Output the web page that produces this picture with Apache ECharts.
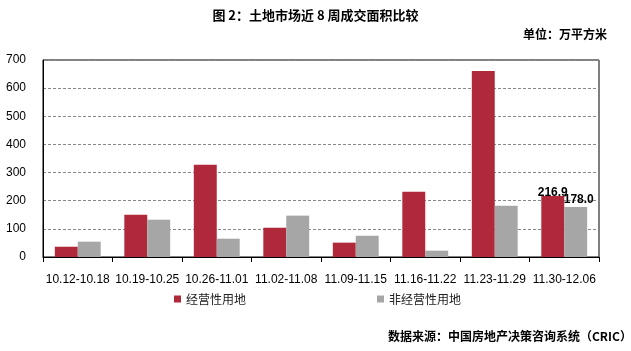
<!DOCTYPE html>
<html>
<head>
<meta charset="utf-8">
<script src="https://cdn.jsdelivr.net/npm/echarts@6/dist/echarts.min.js"></script>
<style>
  html, body { margin: 0; padding: 0; background: #fff; }
  #echarts { width: 631px; height: 351px; }
</style>
</head>
<body>
<div id="echarts"></div>
<script>
// 周度类目
var weeks = ["10.12-10.18", "10.19-10.25", "10.26-11.01", "11.02-11.08",
             "11.09-11.15", "11.16-11.22", "11.23-11.29", "11.30-12.06"];
// 经营性用地
var jingying = [36.5, 150, 327.5, 104, 51, 232, 661, 216.9];
// 非经营性用地
var feijingying = [54.5, 132.5, 65, 147, 75.5, 22.5, 182, 178.0];
var legendNames = ["经营性用地", "非经营性用地"];
var yTicks = { min: 0, max: 700, interval: 100 };

var myCharts = echarts.init(document.getElementById("echarts"));
var cjk = "'Noto Sans CJK SC', sans-serif";
var latin = "'Liberation Sans', sans-serif";
var lastOnly = function (p) {
  return p.dataIndex === weeks.length - 1 ? p.value.toFixed(1) : "";
};

myCharts.setOption({
  animation: false,
  title: [
    {
      text: "图 2：土地市场近 8 周成交面积比较",
      left: "center",
      top: 4,
      textStyle: { fontFamily: cjk, fontSize: 13, fontWeight: "bold", color: "#000" },
    },
    {
      text: "单位：万平方米",
      left: 518,
      top: 23,
      textStyle: { fontFamily: cjk, fontSize: 12, fontWeight: "bold", color: "#000" },
    },
    {
      text: "数据来源：中国房地产决策咨询系统（CRIC）",
      left: 383,
      top: 325,
      textStyle: { fontFamily: cjk, fontSize: 12, fontWeight: "bold", color: "#000" },
    },
  ],
  color: ["#B0293A", "#A6A6A6"],
  grid: {
    left: 43,
    right: 32,
    top: 60,
    bottom: 94,
    show: true,
    borderColor: "#000",
    borderWidth: 1,
  },
  legend: {
    data: legendNames,
    top: 293,
    left: 174,
    padding: 0,
    itemWidth: 7,
    itemHeight: 7,
    itemGap: 131,
    icon: "rect",
    textStyle: { fontFamily: cjk, fontSize: 12, color: "#222" },
  },
  xAxis: {
    type: "category",
    data: weeks,
    boundaryGap: true,
    axisLine: { lineStyle: { color: "#000", width: 1 } },
    axisTick: { show: true, length: 5, inside: false, lineStyle: { color: "#000" } },
    axisLabel: {
      interval: 0,
      margin: 17,
      color: "#000",
      fontFamily: latin,
      fontSize: 12,
    },
  },
  yAxis: {
    type: "value",
    min: yTicks.min,
    max: yTicks.max,
    interval: yTicks.interval,
    axisLine: { show: true, lineStyle: { color: "#000", width: 1 } },
    axisTick: { show: false },
    axisLabel: {
      margin: 17,
      color: "#000",
      fontFamily: latin,
      fontSize: 12,
    },
    splitLine: { lineStyle: { color: "#888", type: [3, 2], width: 1 } },
  },
  series: [
    {
      name: legendNames[0],
      type: "bar",
      data: jingying,
      barGap: "0%",
      barCategoryGap: "34%",
      label: {
        show: true,
        position: "top",
        distance: 1,
        offset: [0, 4],
        formatter: lastOnly,
        color: "#000",
        fontFamily: latin,
        fontSize: 12,
        fontWeight: "bold",
      },
    },
    {
      name: legendNames[1],
      type: "bar",
      data: feijingying,
      label: {
        show: true,
        position: "top",
        distance: 1,
        offset: [3, 0],
        formatter: lastOnly,
        color: "#000",
        fontFamily: latin,
        fontSize: 12,
        fontWeight: "bold",
      },
    },
  ],
});
</script>
</body>
</html>
